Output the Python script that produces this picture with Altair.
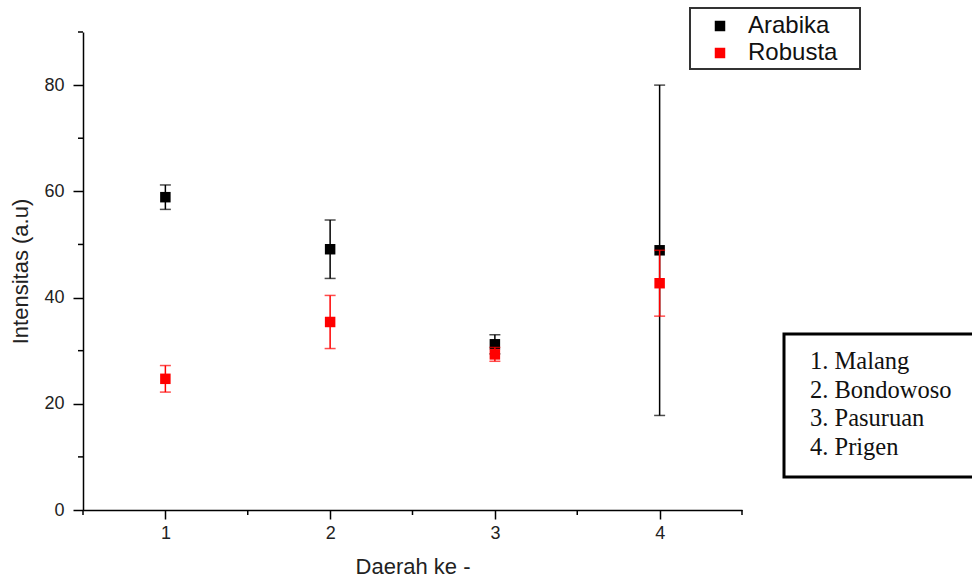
import altair as alt
import pandas as pd

regions = [1, 2, 3, 4]
series_names = ["Arabika", "Robusta"]
series_colors = ["#000000", "#ff0000"]
arabika_mean = [58.9, 49.1, 31.2, 48.9]
arabika_err = [2.3, 5.5, 1.8, 31.1]
robusta_mean = [24.7, 35.4, 29.3, 42.7]
robusta_err = [2.5, 5.0, 1.3, 6.2]
region_names = ["1. Malang", "2. Bondowoso", "3. Pasuruan", "4. Prigen"]
x_ticks = [1, 2, 3, 4]
x_minor_ticks = [0.5, 1.5, 2.5, 3.5, 4.5]
y_ticks = [0, 20, 40, 60, 80]
y_minor_ticks = [10, 30, 50, 70, 90]

rows = []
for name, means, errs in [("Arabika", arabika_mean, arabika_err),
                          ("Robusta", robusta_mean, robusta_err)]:
    for r, m, e in zip(regions, means, errs):
        rows.append({"daerah": r, "seri": name, "mean": m, "lo": m - e, "hi": m + e})
df = pd.DataFrame(rows)

FONT = "Liberation Sans"
W, H = 659, 478

x_scale = alt.Scale(domain=[0.5, 4.5], nice=False, zero=False)
x_axis = alt.Axis(values=x_ticks, format="d", title="Daerah ke -", grid=False)
x_enc = alt.X("daerah:Q", scale=x_scale, axis=x_axis)
y_scale = alt.Scale(domain=[0, 90], nice=False)
y_axis = alt.Axis(values=y_ticks, title="Intensitas (a.u)", grid=False)

color_enc = alt.Color("seri:N",
                      scale=alt.Scale(domain=series_names, range=series_colors),
                      legend=alt.Legend(title=None, orient="none",
                                        legendX=625, legendY=-18,
                                        symbolType="square", symbolSize=110,
                                        labelFont=FONT, labelFontSize=24,
                                        labelColor="#111", rowPadding=3,
                                        labelOffset=16, padding=0))

base = alt.Chart(df)
layers = []
for name, col in zip(series_names, series_colors):
    b = base.transform_filter(alt.datum.seri == name)
    rule = b.mark_rule(color=col, strokeWidth=1.5).encode(
        x=x_enc, y=alt.Y("lo:Q", scale=y_scale, axis=y_axis), y2="hi:Q")
    cap_lo = b.mark_tick(color=col, orient="horizontal", size=11, thickness=1.5).encode(
        x=x_enc, y=alt.Y("lo:Q", scale=y_scale, axis=y_axis))
    cap_hi = b.mark_tick(color=col, orient="horizontal", size=11, thickness=1.5).encode(
        x=x_enc, y=alt.Y("hi:Q", scale=y_scale, axis=y_axis))
    pts = b.mark_square(size=110, filled=True, opacity=1).encode(
        x=x_enc, y=alt.Y("mean:Q", scale=y_scale, axis=y_axis), color=color_enc)
    layers += [rule, cap_lo, cap_hi, pts]

# minor ticks, positioned through the shared scales
x_minor = alt.Chart(pd.DataFrame({"v": x_minor_ticks})).mark_rule(
    color="#000", strokeWidth=1.5).encode(
    x=alt.X("v:Q", scale=x_scale, axis=x_axis), y=alt.value(H), y2=alt.value(H + 5))
y_minor = alt.Chart(pd.DataFrame({"v": y_minor_ticks})).mark_rule(
    color="#000", strokeWidth=1.5).encode(
    y=alt.Y("v:Q", scale=y_scale, axis=y_axis), x=alt.value(-5), x2=alt.value(0))

ann = pd.DataFrame({"t": ["\n".join(region_names)]})
legend_box = alt.Chart(ann).mark_rect(fill="transparent", stroke="#333", strokeWidth=2).encode(
    x=alt.value(607), x2=alt.value(777), y=alt.value(-24), y2=alt.value(37))
info_box = alt.Chart(ann).mark_rect(fill="white", stroke="#000", strokeWidth=3).encode(
    x=alt.value(701), x2=alt.value(895), y=alt.value(302), y2=alt.value(445))
info_text = alt.Chart(ann).mark_text(font="Liberation Serif", fontSize=24.5, align="left",
                                     baseline="middle", lineBreak="\n", lineHeight=28.7,
                                     color="#111").encode(
    x=alt.value(727), y=alt.value(330), text="t:N")

chart = alt.layer(x_minor, y_minor, *layers, legend_box, info_box, info_text).properties(
    width=W, height=H,
    autosize=alt.AutoSizeParams(type="none"),
    padding={"left": 83, "top": 32, "right": 972 - 83 - W, "bottom": 577 - 32 - H},
).configure_view(stroke="transparent").configure_axis(
    domainColor="#000", domainWidth=1.5, tickColor="#000", tickWidth=1.5,
    labelFont=FONT, labelFontSize=18, labelColor="#222",
    titleFont=FONT, titleFontSize=22, titleFontWeight="normal", titleColor="#222",
).configure_axisX(tickSize=9, labelPadding=5, titlePadding=14
).configure_axisY(tickSize=10, labelPadding=9, titlePadding=11)

chart.save("out.html", embed_options={"renderer": "svg", "actions": False})
